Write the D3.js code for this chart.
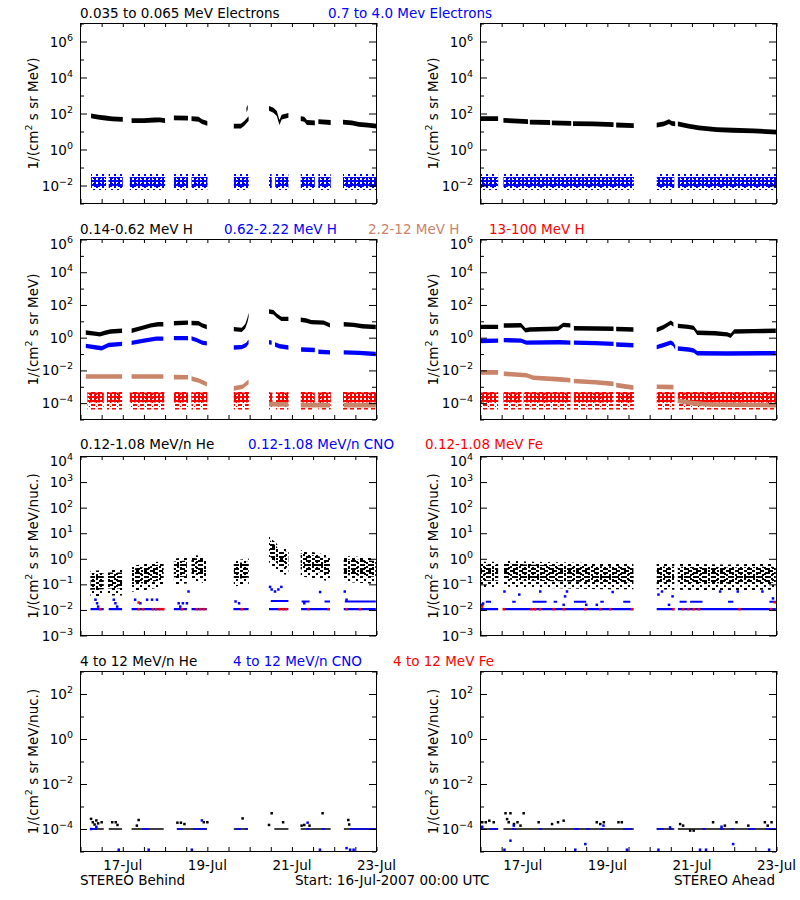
<!DOCTYPE html>
<html><head><meta charset="utf-8">
<script src="https://cdn.jsdelivr.net/npm/d3@7/dist/d3.min.js"></script>
<style>
html,body{margin:0;padding:0;background:#fff}
svg{display:block}
text{font-family:"DejaVu Sans",Verdana,sans-serif;font-size:13.5px}
</style></head><body>
<svg id="chart" width="800" height="900"></svg>
<script>
// ---------------- time / axis data ----------------
const startTime = Date.UTC(2007, 6, 16, 0, 0, 0);
const spanHours = 168;
const xTickHours = [24, 72, 120, 168];
const xTickLabels = ["17-Jul", "19-Jul", "21-Jul", "23-Jul"];
const footerTexts = ["STEREO Behind", "Start: 16-Jul-2007 00:00 UTC", "STEREO Ahead"];
const yDomains = [[-3, 7], [-5, 6], [-3, 4], [-5, 3]];
const yLabelDecades = [[-2, 0, 2, 4, 6], [-4, -2, 0, 2, 4, 6], [-3, -2, -1, 0, 1, 2, 3, 4], [-4, -2, 0, 2]];
const yTitleMain = ["1/(cm", "1/(cm", "1/(cm", "1/(cm"];
const yTitleTail = [" s sr MeV)", " s sr MeV)", " s sr MeV/nuc.)", " s sr MeV/nuc.)"];
const rowTitles = [
  [["0.035 to 0.065 MeV Electrons", "k"], ["0.7 to 4.0 Mev Electrons", "b"]],
  [["0.14-0.62 MeV H", "k"], ["0.62-2.22 MeV H", "b"], ["2.2-12 MeV H", "o"], ["13-100 MeV H", "r"]],
  [["0.12-1.08 MeV/n He", "k"], ["0.12-1.08 MeV/n CNO", "b"], ["0.12-1.08 MeV Fe", "r"]],
  [["4 to 12 MeV/n He", "k"], ["4 to 12 MeV/n CNO", "b"], ["4 to 12 MeV Fe", "r"]]
];

// ---------------- series data: [hour since start, log10 intensity], null = data gap ----------------
// Row 1 electrons
const bElecLow = [[6,1.87],[10,1.8],[14,1.75],[18,1.7],[24,1.67],null,
  [29,1.6],[36,1.6],[42,1.64],[45,1.65],[48,1.6],null,
  [53,1.76],[61,1.74],null,[63,1.72],[67,1.68],[69,1.55],[72,1.45],null,
  [87,1.3],[91,1.3],[93,1.45],[95.4,1.72],null,[94.2,2.2],[94.9,2.35],null,
  [107,2.28],[109.5,2.18],[111.4,2.0],[112.9,1.5],[114.2,1.8],[118,1.9],null,
  [125,1.72],[127,1.68],[128.5,1.5],[133,1.48],null,[135,1.55],[142,1.5],null,
  [149,1.52],[154,1.48],[158,1.4],[163,1.35],[168,1.3]];
const bElecHigh = [[6,-1.8],[14.5,-1.8],null,[16,-1.8],[24,-1.8],null,[28,-1.8],[48,-1.8],null,
  [53,-1.8],[61,-1.8],null,[63,-1.8],[72,-1.8],null,[87,-1.8],[95.5,-1.8],null,
  [107,-1.8],[108.5,-1.8],null,[110.5,-1.8],[118,-1.8],null,[125,-1.8],[133,-1.8],null,
  [135,-1.8],[142,-1.8],null,[149,-1.8],[168,-1.8]];
const aElecLow = [[0,1.72],[10,1.72],null,[13,1.62],[27,1.55],null,[28,1.52],[39.5,1.5],null,
  [40.5,1.48],[51.5,1.45],null,[52.5,1.44],[64,1.42],[75.5,1.38],null,[77,1.36],[87,1.33],null,
  [100,1.35],[104,1.42],[107,1.55],[108.5,1.45],[110.5,1.42],null,
  [112,1.42],[118,1.3],[124,1.2],[134,1.1],[143,1.07],[155,1.03],[168,0.97]];
const aElecHigh = [[0,-1.8],[10,-1.8],null,[13,-1.8],[87,-1.8],null,[100,-1.8],[110,-1.8],null,[112,-1.8],[168,-1.8]];

// Row 2 protons
const bH1 = [[3,0.32],[8,0.25],[11,0.2],[14,0.3],[17,0.38],[23.6,0.42],null,
  [29,0.42],[35,0.6],[40,0.75],[44,0.82],[47,0.82],null,
  [53,0.88],[61,0.92],null,[63,0.9],[67,0.88],[69,0.75],[71.7,0.65],null,
  [87,0.52],[91.5,0.48],[93.5,0.7],[94.8,1.1],[95.4,1.4],null,
  [107,1.6],[109.5,1.55],[111.4,1.35],[114,1.15],[118,1.15],null,
  [125,1.1],[128,1.05],[131,0.95],[138,0.92],[141.6,0.75],null,
  [149.4,0.82],[155,0.78],[160,0.7],[167.6,0.65]];
const bH2 = [[3,-0.5],[9,-0.6],[12,-0.65],[16,-0.45],[23.6,-0.38],null,
  [29,-0.32],[36,-0.18],[43,-0.06],[47,-0.06],null,
  [53,-0.03],[61,-0.03],null,[63,-0.04],[66,-0.15],[69,-0.3],[71.7,-0.35],null,
  [87,-0.6],[91.5,-0.58],[94,-0.45],[95.4,-0.25],null,
  [107,-0.28],[108.5,-0.3],null,[110.4,-0.42],[113,-0.52],[118,-0.6],null,
  [125.2,-0.72],[133,-0.75],null,[135,-0.86],[141.6,-0.9],null,
  [149.4,-0.9],[158,-0.93],[167.6,-1.0]];
const bH3 = [[3,-2.37],[23.6,-2.37],null,[29,-2.37],[47,-2.37],null,
  [53,-2.41],[61,-2.42],null,[63,-2.5],[67,-2.62],[71.7,-2.85],null,
  [87,-3.1],[92,-3.0],[95.4,-2.7],null,[107,-4.06],[118,-4.08],null,
  [125,-4.12],[141.6,-4.12],null,[149.4,-4.12],[167.6,-4.12]];
const bH4 = [[4,-3.65],[13.2,-3.65],null,[15,-3.65],[23.6,-3.65],null,[28,-3.65],[47.5,-3.65],null,
  [53,-3.65],[61,-3.65],null,[63,-3.65],[72,-3.65],null,[87,-3.65],[95.5,-3.65],null,
  [107,-3.65],[109,-3.65],null,[111,-3.65],[118,-3.65],null,[125,-3.65],[133,-3.65],null,
  [135,-3.65],[142,-3.65],null,[149,-3.65],[168,-3.65]];
const aH1 = [[0,0.66],[10,0.66],null,[13.2,0.74],[23,0.76],[25.5,0.45],[28,0.5],[44,0.55],[47,0.78],[51,0.75],null,
  [53,0.58],[65,0.56],[75.5,0.55],null,[77,0.53],[86.8,0.5],null,
  [100,0.47],[104,0.65],[108,0.92],[109.5,0.8],null,
  [112,0.72],[118,0.66],[121,0.6],[123,0.3],[133,0.27],[140,0.2],[142,0.12],[144,0.38],[155,0.4],[167.6,0.42]];
const aH2 = [[0,-0.2],[10,-0.18],null,[13.2,-0.15],[23,-0.18],[26,-0.3],[45,-0.28],[51,-0.3],null,
  [53,-0.3],[65,-0.33],[75.5,-0.38],null,[77,-0.42],[86.8,-0.46],null,
  [100,-0.58],[104,-0.45],[108,-0.3],[109.5,-0.4],[110.5,-0.6],null,
  [112,-0.66],[118,-0.72],[121,-0.78],[123,-0.95],[140,-0.97],[167.6,-0.95]];
const aH3 = [[0,-2.12],[10,-2.12],null,[13.2,-2.2],[26,-2.3],[30,-2.45],[45,-2.55],[51,-2.6],null,
  [53,-2.65],[65,-2.72],[75.5,-2.82],null,[77,-2.9],[86.8,-3.05],null,
  [100,-3.0],[109.5,-3.02],null,[112,-3.85],[120,-4.0],[130,-4.08],[167.6,-4.12]];
const aH4 = [[0,-3.65],[10,-3.65],null,[13,-3.65],[23.2,-3.65],null,[24.5,-3.65],[51,-3.65],null,
  [53,-3.65],[75.5,-3.65],null,[77,-3.65],[87,-3.65],null,[100,-3.65],[110,-3.65],null,[112,-3.65],[168,-3.65]];

// Row 3 suprathermal ions
const bHeLow = [[5.7,-0.9],[13.2,-0.88],null,[15.5,-0.85],[23.6,-0.85],null,
  [29,-0.7],[38,-0.62],[47.2,-0.5],null,[53,-0.42],[60.4,-0.38],null,
  [63,-0.28],[68,-0.3],[71.7,-0.45],null,[87,-0.5],[95.5,-0.42],null,
  [107,0.45],[109,0.3],[111,0.2],[113,0.0],[115,-0.02],[118,-0.05],null,
  [125,-0.1],[133,-0.18],[141.6,-0.3],null,[149.4,-0.32],[158,-0.35],[167.6,-0.4]];
const aHeLow = [[0,-0.55],[10,-0.55],null,[13,-0.5],[30,-0.55],[50,-0.58],[70,-0.6],[86.8,-0.6],null,
  [100,-0.6],[110,-0.62],null,[112,-0.62],[140,-0.65],[167.6,-0.62]];
const bCnoLine = [[5.7,-1.97],[13.2,-1.97],null,[16,-1.97],[23.6,-1.97],null,[29,-1.97],[47.2,-1.97],null,
  [53,-1.97],[60.4,-1.97],null,[63,-1.97],[71.7,-1.97],null,[86.8,-1.97],[95.4,-1.97],null,
  [107,-1.97],[118,-1.97],null,[125.2,-1.97],[141.6,-1.97],null,[149.4,-1.97],[167.6,-1.97]];
const aCnoLine = [[0,-1.97],[10,-1.97],null,[13,-1.97],[86.8,-1.97],null,[100,-1.97],[110,-1.97],null,[112,-1.97],[167.6,-1.97]];
const bCnoDash = [[108,-1.65],[118,-1.65],null,[125.5,-1.67],[130,-1.67],null,[138.5,-1.67],[141.6,-1.67],null,[150,-1.67],[167.6,-1.67]];
const aCnoDash = [[3,-1.68],[6,-1.68],null,[18,-1.68],[20,-1.68],null,[29.5,-1.68],[37.5,-1.68],null,
  [41.5,-1.68],[43.5,-1.68],null,[53,-1.68],[60,-1.68],null,[68,-1.68],[70,-1.68],null,[81,-1.68],[85,-1.68],null,
  [113,-1.68],[117,-1.68],null,[119,-1.68],[126,-1.68],null,[140.5,-1.68],[143.5,-1.68],null,[164,-1.68],[167.6,-1.68]];
const bCnoDots = [[8.5,-1.6],[9.4,-1.74],[10,-1.87],[18.9,-1.6],[19.8,-1.74],[20.8,-1.87],[31,-1.6],[34,-1.74],
  [37.8,-1.6],[40.6,-1.6],[43.4,-1.6],[55.7,-1.74],[56.6,-1.87],[58.1,-1.74],[60.4,-1.74],[61.3,-1.28],
  [88,-1.67],[90,-1.74],[107.6,-1.1],[108.5,-1.2],[110.4,-1.28],[112.3,-1.2],[114,-1.1],
  [127,-1.74],[136,-1.3],[150,-1.28],[151,-1.6]];
const aCnoDots = [[1,-1.8],[1.5,-1.75],[13.6,-1.28],[22,-1.4],[33.9,-1.28],[47.2,-1.8],[48,-1.47],[49.1,-1.28],
  [60,-1.8],[66,-1.8],[75,-1.3],[101,-1.4],[103,-1.28],[107,-1.8],[109,-1.47],[136,-1.28],[146,-1.28],[160,-1.28],[166,-1.55]];
const bFeDots = [[11.3,-1.97],[33,-1.71],[33,-1.97],[35.5,-1.97],[41,-1.97],[43,-1.97],[45,-1.97],[47,-1.97],
  [57.6,-1.97],[66,-1.97],[68,-1.97],[70,-1.97],[91.5,-1.97],[113,-1.97],[115,-1.97],[116.5,-1.97],
  [129.4,-1.97],[140.7,-1.97],[151,-1.97],[158.6,-1.97]];
const aFeDots = [[0.9,-1.87],[13.2,-1.97],[29,-1.97],[31,-1.97],[33.9,-1.97],[41.5,-1.97],[47.2,-1.97],[59.5,-1.97],
  [68,-1.97],[73.6,-1.97],[86,-1.97],[109.5,-1.97],[115,-1.97],[118,-1.97],[121,-1.97],[124,-1.97],
  [147,-1.97],[164.9,-1.97],[167,-1.7]];

// Row 4 energetic ions
const bHe4Base = [[5.7,-4],[13.2,-4],null,[16,-4],[23.6,-4],null,[29,-4],[47.2,-4],null,[54.7,-4],[71.7,-4],null,
  [87,-4],[95,-4],null,[110,-4],[118,-4],null,[125,-4],[142,-4],null,[149.5,-4],[167.6,-4]];
const bCno4Base = [[5.7,-4],[9.4,-4],null,[35,-4],[39,-4],null,[54.7,-4],[58,-4],null,[64,-4],[71.7,-4],null,
  [88,-4],[91,-4],null,[93.5,-4],[95,-4],null,[128,-4],[130,-4],null,[137,-4],[139,-4],null,[153,-4],[167.6,-4]];
const aHe4Base = [[0,-4],[10,-4],null,[13,-4],[87,-4],null,[100,-4],[110,-4],null,[112,-4],[167.6,-4]];
const aCno4Base = [[0,-4],[1.5,-4],null,[5,-4],[10,-4],null,[18,-4],[20,-4],null,[33,-4],[35,-4],null,[53,-4],[56,-4],null,
  [60,-4],[62,-4],null,[68,-4],[70,-4],null,[81,-4],[86,-4],null,[100,-4],[104,-4],null,[107,-4],[109,-4],null,
  [126,-4],[128,-4],null,[136,-4],[138,-4],null,[142,-4],[144,-4],null,[152,-4],[156,-4],null,[162,-4],[167.6,-4]];
const bHe4Dots = [[6,-3.55],[7,-3.7],[8,-3.8],[9,-3.62],[10,-3.75],[12,-3.7],[18,-3.7],[20,-3.7],[21,-3.82],
  [32,-3.85],[33,-3.6],[55,-3.72],[57,-3.72],[59,-3.78],[70,-3.7],[72,-3.7],[92,-3.53],[107,-3.82],[108.5,-3.3],
  [115,-3.7],[125.5,-3.85],[127,-3.82],[130,-3.85],[137.4,-3.3],[152,-3.6],[152.5,-3.8]];
const bCno4Dots = [[6,-4.0],[9,-3.9],[21.7,-4.92],[38.7,-4.92],[63.2,-4.92],[68.9,-3.62],[128.9,-3.72],
  [135.9,-4.92],[151,-4.85],[153,-4.92],[155,-4.92]];
const aHe4Dots = [[1,-3.7],[3,-3.7],[5,-3.63],[7.5,-3.7],[14.2,-3.3],[15.1,-3.56],[16,-3.7],[17,-3.3],[19,-3.78],
  [21,-3.7],[22.7,-3.85],[24.5,-3.3],[33,-3.7],[40.6,-3.78],[44,-3.7],[47.2,-3.63],[66,-3.7],[68,-3.78],[70,-3.7],
  [78.3,-3.7],[80.2,-3.7],[113.3,-3.78],[115,-3.85],[119,-4.07],[121,-4.07],[132,-3.7],[138.7,-3.85],
  [145.3,-3.7],[152,-3.85],[161.4,-3.7],[163,-3.85],[165.2,-3.7]];
const aCno4Dots = [[1,-3.9],[13.6,-4.92],[17,-4.52],[18.9,-3.85],[53.8,-4.92],[59.5,-4.67],[69.8,-3.85],[83.1,-4.92],
  [101,-4.92],[107.6,-3.93],[124.6,-4.92],[128,-4.92],[136.8,-3.9],[143.4,-4.67],[163.8,-4.92]];

// ---------------- styles / layout ----------------
const COLORS = {k: "#000000", b: "#0000ff", o: "#c98469", r: "#ff0000"};
const cols = [{x0: 80.5, x1: 376.5}, {x0: 480.5, x1: 776.5}];
const rows = [{y0: 23.5, y1: 203.5}, {y0: 239.5, y1: 419.5}, {y0: 456.5, y1: 635.5}, {y0: 671.5, y1: 851.5}];
const titleX = [[80, 328], [80, 224, 368, 489], [80, 248, 425], [80, 233, 393]];
const titleY = [18, 233.5, 449, 666];

const svg = d3.select("#chart");
const defs = svg.append("defs");
function makePattern(id, color, cw, ch, blocks) {
  const p = defs.append("pattern").attr("id", id).attr("width", cw).attr("height", ch)
    .attr("patternUnits", "userSpaceOnUse");
  blocks.forEach(b => p.append("rect").attr("x", b[0]).attr("y", b[1])
    .attr("width", b[2] || 2).attr("height", b[3] || 2).attr("fill", color));
}
makePattern("kCore", COLORS.k, 9, 4, [[0, 0, 5, 2], [6, 2, 2, 2]]);
makePattern("kHalo", COLORS.k, 8, 6, [[0, 0, 3, 2], [4, 3, 2, 2]]);
makePattern("bCore", COLORS.b, 4, 4, [[0, 0], [2, 0], [2, 2]]);
makePattern("bHalo", COLORS.b, 6, 6, [[0, 0], [3, 3]]);
makePattern("rCore", COLORS.r, 4, 4, [[0, 0], [2, 0], [2, 2]]);
makePattern("rHalo", COLORS.r, 7, 4, [[0, 0, 4, 2], [5, 2, 1, 1]]);

function layers(row, side) {
  const B = side === 0;
  if (row === 0) return [
    {kind: "band", data: B ? bElecHigh : aElecHigh, fill: "url(#bHalo)", half: 8},
    {kind: "band", data: B ? bElecHigh : aElecHigh, fill: "url(#bCore)", half: 5},
    {kind: "band", data: B ? bElecLow : aElecLow, fill: COLORS.k, half: 2.4}];
  if (row === 1) return [
    {kind: "band", data: B ? bH4 : aH4, fill: "url(#rHalo)", half: 9, shift: 3},
    {kind: "band", data: B ? bH4 : aH4, fill: "url(#rCore)", half: 5},
    {kind: "band", data: B ? bH3 : aH3, fill: COLORS.o, half: 2.3},
    {kind: "band", data: B ? bH2 : aH2, fill: COLORS.b, half: 2.2},
    {kind: "band", data: B ? bH1 : aH1, fill: COLORS.k, half: 2.2}];
  if (row === 2) return [
    {kind: "band", data: B ? bHeLow : aHeLow, fill: "url(#kHalo)", half: 13, shift: 2},
    {kind: "band", data: B ? bHeLow : aHeLow, fill: "url(#kCore)", half: 8},
    {kind: "band", data: B ? bCnoLine : aCnoLine, fill: COLORS.b, half: 1.2},
    {kind: "band", data: B ? bCnoDash : aCnoDash, fill: COLORS.b, half: 1},
    {kind: "dots", data: B ? bCnoDots : aCnoDots, fill: COLORS.b},
    {kind: "dots", data: B ? bFeDots : aFeDots, fill: COLORS.r}];
  return [
    {kind: "band", data: B ? bHe4Base : aHe4Base, fill: COLORS.k, half: 0.8},
    {kind: "band", data: B ? bCno4Base : aCno4Base, fill: COLORS.b, half: 0.8},
    {kind: "dots", data: B ? bHe4Dots : aHe4Dots, fill: COLORS.k},
    {kind: "dots", data: B ? bCno4Dots : aCno4Dots, fill: COLORS.b}];
}

rows.forEach((r, ri) => {
  cols.forEach((c, ci) => {
    const xs = d3.scaleUtc()
      .domain([new Date(startTime), new Date(startTime + spanHours * 36e5)])
      .range([c.x0, c.x1]);
    const hx = h => xs(new Date(startTime + h * 36e5));
    const dom = yDomains[ri];
    const ys = d3.scaleLog().domain([Math.pow(10, dom[0]), Math.pow(10, dom[1])]).range([r.y1, r.y0]);
    const yv = v => ys(Math.pow(10, v));
    const g = svg.append("g");
    const clipId = `clip${ri}${ci}`;
    defs.append("clipPath").attr("id", clipId).append("rect")
      .attr("x", c.x0).attr("y", r.y0).attr("width", c.x1 - c.x0).attr("height", r.y1 - r.y0);
    const dg = g.append("g").attr("clip-path", `url(#${clipId})`);
    layers(ri, ci).forEach(L => {
      if (L.kind === "band") {
        const s = L.shift || 0;
        const area = d3.area().defined(d => d !== null)
          .x(d => hx(d[0]))
          .y0(d => yv(d[1]) + L.half + s)
          .y1(d => yv(d[1]) - L.half + s);
        dg.append("path").attr("d", area(L.data)).attr("fill", L.fill);
      } else {
        dg.selectAll(null).data(L.data).enter().append("rect")
          .attr("x", d => hx(d[0]) - 1.25).attr("y", d => yv(d[1]) - 1.25)
          .attr("width", 2.5).attr("height", 2.5).attr("fill", L.fill);
      }
    });
    // frame
    g.append("rect").attr("x", c.x0).attr("y", r.y0).attr("width", c.x1 - c.x0).attr("height", r.y1 - r.y0)
      .attr("fill", "none").attr("stroke", "#000").attr("stroke-width", 1);
    // x ticks top & bottom
    const every12 = d3.utcHour.every(12);
    g.append("g").attr("transform", `translate(0,${r.y1 - 0.5})`)
      .call(d3.axisBottom(xs).ticks(every12).tickSize(-4).tickFormat(""))
      .call(a => a.select(".domain").remove());
    g.append("g").attr("transform", `translate(0,${r.y0 - 0.5})`)
      .call(d3.axisTop(xs).ticks(every12).tickSize(-4).tickFormat(""))
      .call(a => a.select(".domain").remove());
    // y ticks
    const decades = d3.range(dom[0], dom[1] + 1);
    const majors = decades.filter(d => yLabelDecades[ri].includes(d)).map(d => Math.pow(10, d));
    const minors = decades.filter(d => !yLabelDecades[ri].includes(d)).map(d => Math.pow(10, d));
    [[d3.axisLeft, c.x0 - 0.5], [d3.axisRight, c.x1 - 0.5]].forEach(([ax, tx]) => {
      g.append("g").attr("transform", `translate(${tx},0)`)
        .call(ax(ys).tickValues(majors).tickSize(-7).tickFormat(""))
        .call(a => a.select(".domain").remove());
      g.append("g").attr("transform", `translate(${tx},0)`)
        .call(ax(ys).tickValues(minors).tickSize(-4).tickFormat(""))
        .call(a => a.select(".domain").remove());
    });
    // y labels (label at the top edge sits a little lower, as in the reference)
    yLabelDecades[ri].forEach(d => {
      const extra = d === dom[1] ? 4 : 0;
      const t = g.append("text").attr("x", c.x0 - 7.5).attr("y", yv(d) + 5 + extra).attr("text-anchor", "end");
      t.append("tspan").text("10");
      t.append("tspan").attr("dy", -6).style("font-size", "9.5px").text(String(d).replace("-", "\u2212"));
    });
    // y title
    const cy = (r.y0 + r.y1) / 2, cx = c.x0 - 43;
    const yt = g.append("text").attr("transform", `translate(${cx},${cy}) rotate(-90)`).attr("text-anchor", "middle");
    yt.append("tspan").text(yTitleMain[ri]);
    yt.append("tspan").attr("dy", -6).style("font-size", "9.5px").text("2");
    yt.append("tspan").attr("dy", 6).text(yTitleTail[ri]);
    // x labels on bottom row
    if (ri === rows.length - 1) {
      xTickHours.forEach((h, i) => {
        g.append("text").attr("x", hx(h)).attr("y", 870).attr("text-anchor", "middle").text(xTickLabels[i]);
      });
    }
  });
  // row titles
  rowTitles[ri].forEach((t, i) => {
    svg.append("text").attr("x", titleX[ri][i]).attr("y", titleY[ri]).attr("fill", COLORS[t[1]]).text(t[0]);
  });
});

svg.append("text").attr("x", 80).attr("y", 885).text(footerTexts[0]);
svg.append("text").attr("x", 295).attr("y", 885).text(footerTexts[1]);
svg.append("text").attr("x", 775).attr("y", 885).attr("text-anchor", "end").text(footerTexts[2]);
</script>
</body></html>
